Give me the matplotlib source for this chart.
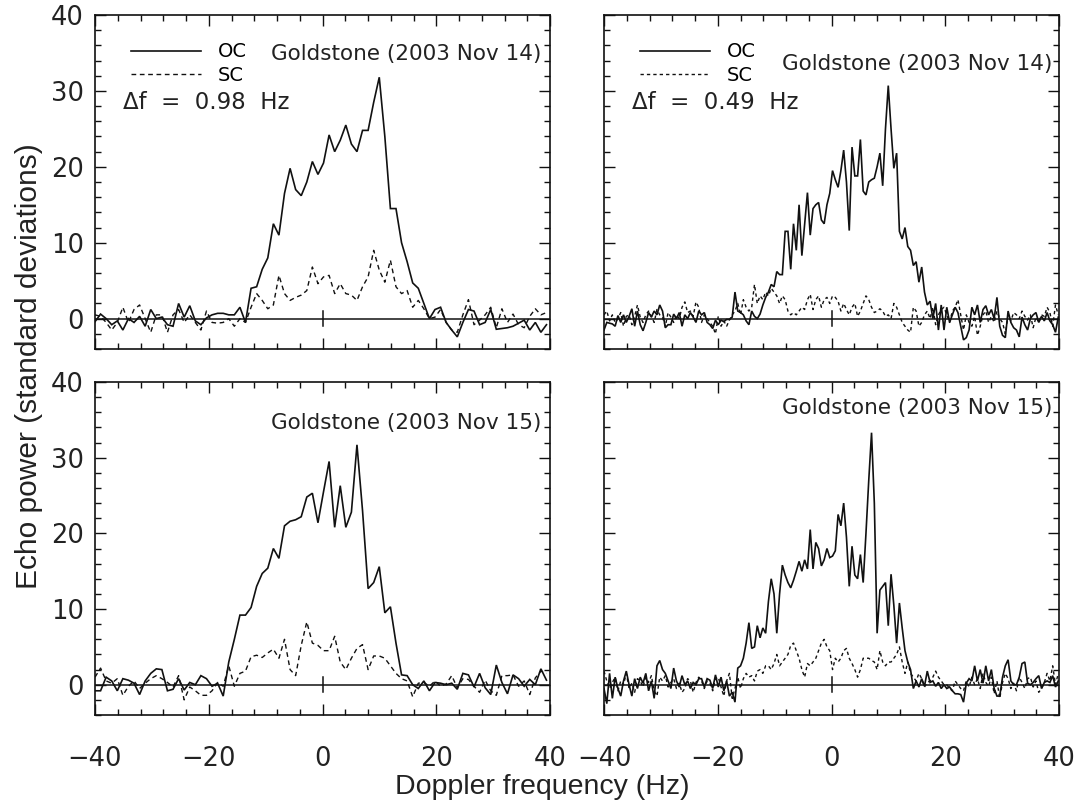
import numpy as np
import matplotlib
matplotlib.use("Agg")
import matplotlib.pyplot as plt
from matplotlib.ticker import MultipleLocator, FuncFormatter

# ---------------- data ----------------
df_coarse = 0.98   # Hz, left column
df_fine = 0.49     # Hz, right column
freq_coarse = -40 + df_coarse * np.arange(82)
freq_fine = -40 + df_fine * np.arange(164)

# Nov 14, 0.98 Hz
oc_nov14_coarse = [
    -0.4, 0.6, 0.0, -0.8, -0.3, -1.5, 0.0, -0.5, 0.3, -1.0,
    1.2, 0.0, 0.2, -0.8, -1.0, 2.0, 0.2, 1.7, -0.3, -0.8,
    0.1, 0.5, 0.7, 0.7, 0.5, 0.5, 1.5, -0.5, 4.0, 4.2,
    6.5, 8.0, 12.5, 11.0, 16.5, 19.8, 17.0, 16.2, 18.0, 20.7,
    19.0, 20.5, 24.2, 22.0, 23.5, 25.5, 23.0, 22.0, 24.8, 24.8,
    28.5, 31.8, 24.0, 14.5, 14.5, 10.0, 7.5, 4.7, 4.0, 2.0,
    0.0, 1.2, 1.5, -0.5, -1.5, -2.4, -0.5, 1.2, 1.0, -0.8,
    -0.5, 1.2, -1.4, -1.3, -1.2, -1.0, -0.6, -0.2, -1.5, -0.5,
    -1.8, -0.8]
sc_nov14_coarse = [
    0.5, 0.3, -0.5, -1.5, -0.5, 1.5, -0.5, 1.2, 1.8, 0.0,
    -1.8, 0.5, 0.5, -1.8, 0.5, 1.2, -0.5, 0.5, -0.5, -1.5,
    1.0, -0.5, -0.6, -0.5, 0.0, -1.0, 0.0, -0.5, 1.5, 3.3,
    2.4, 1.3, 1.8, 5.7, 3.3, 2.4, 2.8, 3.1, 3.7, 6.8,
    4.6, 5.5, 5.7, 3.3, 4.6, 3.3, 3.1, 2.4, 4.2, 5.5,
    9.0, 6.4, 4.8, 7.7, 4.2, 3.3, 3.7, 1.5, 2.4, 1.3,
    0.0, 0.2, 1.2, -0.5, -1.5, -1.8, 0.5, 2.5, -0.8, -0.2,
    0.5, 1.5, -1.2, 1.3, -0.5, 0.6, -0.8, -1.2, 0.3, 1.3,
    0.5, 0.8]

# Nov 15, 0.98 Hz
oc_nov15_coarse = [
    -0.8, -0.8, 1.0, 0.5, -0.8, 0.8, 0.6, 0.2, -1.3, 0.5,
    1.5, 2.1, 2.0, -0.8, -0.6, 0.8, -0.7, 0.3, 0.0, 1.2,
    0.8, -0.2, 0.2, -1.5, 3.0, 6.0, 9.2, 9.2, 10.2, 13.0,
    14.7, 15.4, 18.0, 16.7, 21.0, 21.6, 21.8, 22.2, 24.8, 25.3,
    21.4, 25.5, 29.5, 20.8, 26.3, 20.8, 22.8, 31.7, 23.0, 12.7,
    13.5, 15.6, 9.5, 10.3, 5.5, 1.3, 1.2, 0.0, -0.5, 0.5,
    -0.8, 0.3, 0.2, 0.0, 0.2, -0.6, 1.5, 1.3, -0.3, 1.5,
    -0.4, -1.3, 2.6, 0.3, -1.2, 1.3, 0.8, -0.2, 0.7, 0.0,
    2.1, 0.6]
sc_nov15_coarse = [
    1.0, 2.2, 0.5, 0.2, 0.8, -1.4, -0.2, 0.5, -0.5, 0.2,
    0.8, 1.2, 0.8, 0.3, -0.3, 1.2, -2.0, -0.3, -0.8, -1.4,
    -1.4, -0.8, 0.3, -0.2, 2.5, -0.2, 1.5, 1.8, 3.7, 3.9,
    3.6, 4.2, 4.7, 3.5, 6.0, 2.0, 1.2, 5.2, 8.3, 5.5,
    5.2, 4.5, 4.5, 6.4, 3.0, 2.0, 3.5, 4.8, 5.3, 2.0,
    3.8, 3.8, 3.5, 2.5, 1.5, 0.8, 0.5, -1.6, 0.2, 0.3,
    -0.2, 0.5, -0.2, 0.1, 1.2, -0.4, 0.8, 0.7, -0.2, -1.0,
    0.6, -0.8, -1.4, 1.2, 1.2, 1.3, -0.2, 0.5, -1.3, 0.9,
    1.8, 1.5]

# Nov 14, 0.49 Hz
oc_nov14_fine = [
    -1.5, -0.5, -0.6, -0.7, -1.0, 0.4, -0.5, 0.5, -0.5, 0.3,
    1.3, -1.0, 1.0, -0.8, -1.6, -0.5, 0.8, 0.2, 1.0, 0.5,
    1.8, 1.0, -1.2, -0.8, -0.8, 0.6, 0.0, 0.8, -1.0, 0.5,
    0.0, 0.8, 0.2, -0.5, 1.0, 0.5, 0.8, -0.5, -0.8, -1.3,
    -0.2, -0.8, -0.2, -0.4, -0.1, -0.1, 0.2, 3.5, 1.0, 0.8,
    0.5, -0.3, -0.8, 1.0, 0.3, 0.0, 0.6, 1.8, 2.8, 3.5,
    4.5, 4.2, 6.2, 5.8, 5.8, 11.5, 11.5, 6.5, 12.5, 9.0,
    15.0, 8.3, 12.5, 16.6, 11.0, 14.5, 15.0, 15.3, 13.0, 12.5,
    15.0, 16.5, 19.5, 18.3, 17.3, 19.5, 22.2, 18.0, 11.6, 22.6,
    18.8, 18.8, 23.6, 16.8, 16.3, 18.0, 18.3, 18.5, 20.0, 21.8,
    17.5, 25.0, 30.7, 25.0, 19.8, 21.8, 11.5, 10.5, 12.0, 9.5,
    9.0, 7.0, 7.5, 4.8, 6.8, 3.5, 1.8, 2.3, 0.0, 2.0,
    -1.5, 1.8, -1.5, 1.5, -0.5, 0.5, 1.5, 0.8, -1.0, -2.8,
    -2.5, -1.5, 1.5, 0.5, 1.8, -0.5, 1.2, 1.7, 0.5, 1.2,
    0.0, 2.8, -1.0, -2.2, -2.5, 1.0, -0.5, -1.2, -1.5, -2.4,
    0.2, -0.8, -1.5, 0.0, 0.5, 0.8, -0.5, 0.3, -0.3, 0.8,
    -0.3, -0.8, -1.8, 0.2]
sc_nov14_fine = [
    0.5, 1.0, -0.3, 0.5, -0.5, 0.0, 0.8, -1.0, 0.3, 0.5,
    -0.8, 0.3, 1.8, 0.2, -0.5, 0.5, 1.0, 0.3, -0.5, 1.2,
    0.5, 0.2, -1.0, 0.8, 0.2, -0.5, 0.5, 0.0, 1.5, 2.2,
    0.8, 1.0, 0.3, 2.2, 1.5, -0.5, 0.5, 0.0, -0.5, -1.0,
    -2.0, 0.3, -1.0, -0.3, -1.0, -0.2, 0.5, 1.0, 2.0, 0.5,
    2.5, 1.5, 1.0, 1.5, 4.5, 2.0, 3.0, 2.5, 3.5, 3.0,
    4.0, 3.5, 3.0, 2.0, 3.0, 2.5, 1.0, 0.5, 0.8, 0.5,
    1.0, 1.5, 1.2, 2.5, 3.2, 1.2, 2.5, 3.0, 1.5, 2.5,
    2.8, 2.0, 3.0, 2.8, 2.3, 1.0, 2.0, 1.2, 0.5, 1.5,
    2.0, 0.3, 1.0, 2.0, 3.0, 2.5, 1.5, 0.8, 1.0, 1.3,
    1.0, 0.3, 0.5, 0.0, 2.0, 1.5, 0.5, -0.5, -1.0, -1.5,
    -1.8, 1.5, 1.0, -1.0, -0.5, 0.5, 1.0, 0.0, 1.5, -0.8,
    0.5, 1.2, 1.5, 0.5, -0.5, 1.0, 1.5, 2.5, 0.5, -1.5,
    0.5, -0.5, -1.0, 0.3, -2.2, -1.0, 0.5, 1.0, -0.5, 0.3,
    -0.5, 1.0, 0.0, -0.5, -2.0, 0.5, -0.3, 0.8, 0.5, 0.0,
    1.0, 0.3, -0.2, 0.5, -1.2, 0.2, -0.5, 0.5, 0.3, 1.5,
    0.8, -1.0, 1.8, 0.5]

# Nov 15, 0.49 Hz
oc_nov15_fine = [
    -0.5, -2.5, 1.5, -1.8, 1.0, -0.5, -1.5, 0.5, 1.8, 0.0,
    -1.5, 0.8, -0.5, 1.0, 0.2, 1.5, -0.8, 0.5, -1.8, 2.5,
    3.2, 2.0, 1.5, 0.5, -0.5, 2.2, 0.5, -0.3, 1.2, 0.0,
    0.5, -0.5, 0.3, 0.0, 0.8, 0.8, -0.3, 0.8, 0.6, -0.5,
    1.3, -0.3, 1.0, -0.8, 0.5, -1.5, -1.0, -2.3, 2.2, 2.5,
    3.5, 5.5, 8.2, 4.8, 5.0, 7.8, 6.2, 7.5, 6.8, 11.0,
    14.0, 12.0, 6.8, 12.0, 15.8, 14.5, 13.5, 12.8, 13.8, 15.0,
    16.3, 15.0, 16.5, 15.3, 20.5, 15.3, 18.8, 18.0, 15.7, 16.5,
    18.0, 16.8, 17.0, 17.7, 22.5, 21.0, 24.0, 19.5, 13.0, 18.3,
    14.5, 14.0, 17.2, 13.5, 20.0, 27.0, 33.3, 24.0, 6.8, 12.5,
    13.0, 13.5, 7.8, 14.6, 10.5, 5.5, 10.8, 7.5, 4.5, 3.0,
    2.0, -0.5, 0.5, -0.3, 0.8, -0.2, 1.8, 0.3, 0.5, -0.2,
    0.3, -0.5, 0.0, -0.5, -0.3, -0.8, -1.2, -1.2, -1.3, -2.3,
    0.2, 0.8, 0.5, 2.5, 0.5, 2.0, 0.2, 2.5, 0.5, 2.0,
    -0.5, -1.5, -1.5, 1.0, 2.5, 3.3, 0.5, 0.0, 0.0, 1.0,
    2.8, 3.0, 0.2, 0.0, 0.3, 0.8, 1.2, -0.5, 0.3, 0.5,
    0.3, 1.2, -0.3, 0.5]
sc_nov15_fine = [
    1.8, 0.5, -0.5, 0.3, 1.0, -0.8, 0.5, 0.0, 1.5, -0.5,
    0.2, -1.0, 0.8, 0.5, -0.3, 1.0, 0.3, 1.2, -0.8, -1.5,
    1.0, 0.5, 1.2, -0.3, 0.3, 0.8, -0.5, 0.2, -1.0, -0.5,
    0.8, 0.5, -1.0, 0.3, 1.0, 0.5, -0.5, 0.5, 0.2, -0.8,
    0.8, 1.0, -0.3, -1.5, 0.5, 1.5, -1.8, -0.5, 1.0, -0.5,
    0.8, 1.5, 1.0, 1.2, 0.5, 1.8, 2.0, 1.5, 2.5, 2.5,
    2.0, 2.8, 4.0, 2.5, 3.0, 3.5, 4.0, 5.2, 5.5, 4.5,
    3.5, 2.0, 1.0, 2.8, 2.5, 3.0, 3.5, 4.5, 5.5, 6.0,
    5.0, 4.5, 2.0, 3.5, 3.0, 3.5, 4.5, 4.8, 3.5, 2.8,
    2.0, 1.0, 2.0, 3.5, 3.5, 3.5, 3.2, 3.0, 2.0, 4.5,
    3.0, 2.5, 3.0, 3.0, 3.5, 4.0, 5.0, 3.0, 1.5, 3.0,
    1.5, 1.0, 0.5, 1.5, 0.8, -0.3, 0.3, 0.5, 1.0, 1.8,
    1.0, 0.5, 0.0, 0.0, -0.5, -0.8, 0.5, 0.0, -0.5, -0.8,
    0.5, -0.3, 1.0, 0.0, 0.8, -0.5, 1.5, 0.3, -0.2, 1.0,
    -1.2, 0.5, -1.8, 0.3, 1.5, 0.8, -0.5, 0.2, -0.8, 1.0,
    0.3, -0.5, 0.8, 1.0, -0.3, 0.5, -1.0, -0.5, 0.3, 1.5,
    0.5, 2.5, 0.0, 1.5]

x_ticks = [-40, -20, 0, 20, 40]
y_ticks = [0, 10, 20, 30, 40]
date_labels = ["Goldstone (2003 Nov 14)", "Goldstone (2003 Nov 15)"]
res_labels = ["\u0394f  =  0.98  Hz", "\u0394f  =  0.49  Hz"]
xlabel_text = "Doppler frequency (Hz)"
ylabel_text = "Echo power (standard deviations)"

# ---------------- figure ----------------
W, H = 1075, 807
fig = plt.figure(figsize=(W / 100, H / 100), dpi=100)

def px_rect(x0, y0, x1, y1):
    return [x0 / W, 1 - y1 / H, (x1 - x0) / W, (y1 - y0) / H]

ax_tl = fig.add_axes(px_rect(95, 15, 550, 349))
ax_tr = fig.add_axes(px_rect(604, 15, 1059, 349))
ax_bl = fig.add_axes(px_rect(95, 382, 550, 715))
ax_br = fig.add_axes(px_rect(604, 382, 1059, 715))

ink = "#111111"
tick_font = dict(family="DejaVu Sans", size=18.5)

def minus_fmt(v, pos):
    s = "%d" % v
    return s.replace("-", "\u2212")

panels = [
    (ax_tl, freq_coarse, oc_nov14_coarse, sc_nov14_coarse, 0, 0, True, False, (0.982, 0.883)),
    (ax_tr, freq_fine, oc_nov14_fine, sc_nov14_fine, 0, 1, False, False, (0.985, 0.853)),
    (ax_bl, freq_coarse, oc_nov15_coarse, sc_nov15_coarse, 1, 0, True, True, (0.982, 0.877)),
    (ax_br, freq_fine, oc_nov15_fine, sc_nov15_fine, 1, 1, False, True, (0.985, 0.922)),
]

for ax, fx, oc, sc, row, col, show_y, show_x, date_pos in panels:
    ax.set_xlim(-40, 40)
    ax.set_ylim(-4, 40)
    dash = (0, (3.4, 2.6)) if col == 0 else (0, (2.4, 2.2))
    l_oc, = ax.plot(fx, oc, color=ink, lw=1.2, solid_joinstyle="miter", label="OC")
    l_sc, = ax.plot(fx, sc, color=ink, lw=1.0, linestyle=dash, label="SC")
    ax.axhline(0, color=ink, lw=1.1)
    y0f = (0 - ax.get_ylim()[0]) / (ax.get_ylim()[1] - ax.get_ylim()[0])
    ax.axvline(0, ymin=y0f - 0.022, ymax=y0f + 0.022, color=ink, lw=1.1)

    ax.xaxis.set_major_locator(MultipleLocator(20))
    ax.xaxis.set_minor_locator(MultipleLocator(4))
    ax.yaxis.set_major_locator(MultipleLocator(10))
    ax.yaxis.set_minor_locator(MultipleLocator(2))
    ax.tick_params(which="both", direction="in", top=True, right=True,
                   color=ink, width=1.0)
    ax.tick_params(which="major", length=8)
    ax.tick_params(which="minor", length=4)
    ax.tick_params(axis="y", pad=8, labelleft=show_y)
    ax.tick_params(axis="x", pad=22, labelbottom=show_x)
    ax.xaxis.set_major_formatter(FuncFormatter(minus_fmt))
    ax.yaxis.set_major_formatter(FuncFormatter(minus_fmt))
    for lab in ax.get_xticklabels() + ax.get_yticklabels():
        lab.set_fontfamily(tick_font["family"])
        lab.set_fontsize(tick_font["size"])
        lab.set_color("#222222")
    for sp in ax.spines.values():
        sp.set_linewidth(1.2)
        sp.set_color(ink)

    ax.text(date_pos[0], date_pos[1], date_labels[row], transform=ax.transAxes,
            ha="right", va="center", fontsize=15.5, family="DejaVu Sans",
            color="#222222")

    if row == 0:
        ax.legend(handles=[l_oc, l_sc], loc="upper left",
                  bbox_to_anchor=(0.08, 0.918), frameon=False,
                  handlelength=3.6, handletextpad=0.85,
                  labelspacing=0.25, borderpad=0, borderaxespad=0,
                  prop={"family": "DejaVu Sans", "size": 14})
        ax.text(0.062, 0.737, res_labels[col], transform=ax.transAxes,
                ha="left", va="center", fontsize=16.5, family="DejaVu Sans",
                color="#222222")

fig.text(542 / W, 1 - 787 / H, xlabel_text, ha="center", va="center",
         fontsize=20.5, family="Liberation Sans", color="#222222")
fig.text(29 / W, 1 - 366 / H, ylabel_text, ha="center", va="center",
         rotation=90, fontsize=21.5, family="Liberation Sans", color="#222222")

fig.savefig("out.png", dpi=100)
